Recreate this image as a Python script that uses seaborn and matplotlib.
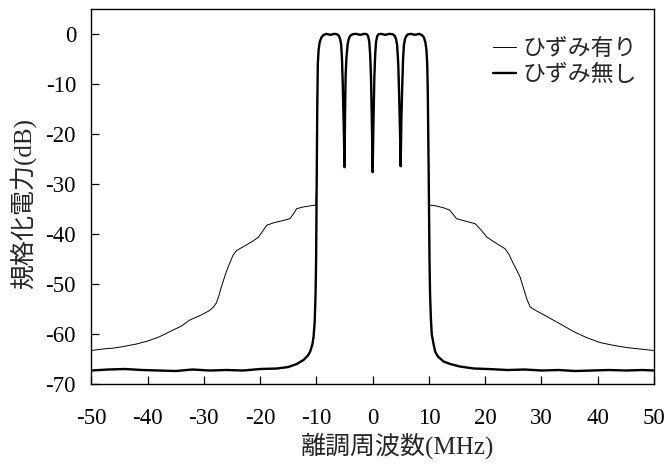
import numpy as np
import pandas as pd
import matplotlib
matplotlib.use("Agg")
import matplotlib.pyplot as plt
import seaborn as sns

# ---- data ----
# ひずみ無し (no distortion): thick line
freq_clean = [-50, -47, -44, -41, -38, -35, -32, -29, -26, -23, -20, -17, -15, -13.5,
              -12.3, -11.5, -11.1, -10.7, -10.5, -10.3, -10.15, -10.05, -9.95, -9.85,
              -9.75, -9.6, -9.4, -9.1, -8.8, -8.3, -7.5, -6.8, -6.3, -6.0, -5.8, -5.6,
              -5.45, -5.3, -5.15, -5.0, -4.9, -4.8, -4.65, -4.45, -4.25, -4.0, -3.6,
              -3.0, -2.2, -1.5, -1.0, -0.8, -0.6, -0.45, -0.3, -0.15, 0.0, 0.15, 0.3,
              0.45, 0.6, 0.8, 1.0, 1.5, 2.2, 3.0, 3.6, 3.9, 4.15, 4.35, 4.55, 4.7, 4.85,
              4.98, 5.1, 5.25, 5.4, 5.55, 5.75, 6.0, 6.3, 6.8, 7.5, 8.3, 8.8, 9.1, 9.35,
              9.55, 9.7, 9.8, 9.9, 10.0, 10.1, 10.2, 10.35, 10.5, 10.8, 11.1, 11.6,
              12.6, 13.8, 15.5, 18, 20.5, 24, 27, 30, 33, 36, 39, 42, 45, 48, 50]
db_clean = [-67.3, -67.1, -67.0, -67.2, -67.3, -67.4, -67.1, -67.3, -67.2, -67.3,
            -67.0, -66.9, -66.6, -66.0, -65.2, -64.3, -63.5, -62.0, -60.5, -57.5,
            -52.0, -45.0, -30.0, -15.0, -6.0, -3.0, -1.5, -0.6, -0.2, 0.1, -0.1, 0.1,
            0.0, -0.3, -0.9, -2.0, -5.0, -10.5, -18.0, -26.6, -15.0, -8.0, -4.5, -2.0,
            -0.9, -0.3, 0.0, 0.1, -0.1, 0.1, 0.0, -0.4, -1.5, -4.0, -8.5, -17.0, -27.6,
            -17.0, -8.5, -4.0, -1.5, -0.4, 0.0, 0.1, -0.1, 0.1, 0.0, -0.3, -0.9, -2.2,
            -6.0, -12.0, -19.0, -26.4, -17.0, -10.6, -5.0, -2.2, -0.9, -0.3, 0.0, 0.1,
            -0.1, 0.1, -0.2, -0.6, -1.5, -3.0, -6.0, -12.0, -22.0, -33.0, -45.0, -52.0,
            -57.0, -60.0, -61.9, -63.5, -64.5, -65.5, -66.0, -66.5, -66.9, -67.0,
            -67.2, -67.1, -67.3, -67.2, -67.4, -67.3, -67.2, -67.3, -67.2, -67.3]

# ひずみ有り (with distortion): thin line, spectral skirts outside the band
freq_dist_left = [-50, -48, -46, -44.3, -42, -40, -38, -36, -34, -32.5, -30.5, -29,
                  -28.3, -27.8, -27.4, -27.0, -26.5, -26.0, -25.4, -24.8, -24.2, -23.6,
                  -22.5, -21.3, -20.3, -19.5, -18.8, -17.5, -16, -14.7, -14.0, -13.5,
                  -12.5, -11.5, -10.4, -10.1]
db_dist_left = [-63.3, -63.0, -62.8, -62.5, -62.0, -61.4, -60.6, -59.5, -58.4, -57.2,
                -56.2, -55.3, -54.6, -53.8, -52.6, -51.0, -49.2, -47.5, -45.8, -44.2,
                -43.3, -42.9, -42.2, -41.4, -40.6, -39.3, -38.2, -37.7, -37.3, -36.9,
                -35.8, -34.9, -34.6, -34.4, -34.2, -34.3]
freq_dist_right = [10.1, 10.4, 11.5, 12.8, 13.7, 14.9, 16.5, 18.2, 19.3, 20.3, 21.5,
                   22.5, 23.5, 24.2, 25.0, 25.6, 26.2, 26.8, 27.4, 28.0, 29.0, 30.5,
                   32.1, 34.0, 35.7, 38.0, 40.4, 42.5, 45.1, 47.5, 50]
db_dist_right = [-34.3, -34.2, -34.4, -34.8, -35.2, -36.9, -37.4, -37.9, -39.2, -40.6,
                 -41.5, -42.2, -42.9, -44.0, -45.9, -47.2, -48.6, -50.8, -53.0, -54.6,
                 -55.3, -56.2, -57.2, -58.4, -59.5, -60.7, -61.7, -62.2, -62.7, -63.0,
                 -63.3]

x_ticks = [-50, -40, -30, -20, -10, 0, 10, 20, 30, 40, 50]
y_ticks = [0, -10, -20, -30, -40, -50, -60, -70]
label_dist = "ひずみ有り"
label_clean = "ひずみ無し"
xlabel = "離調周波数(MHz)"
ylabel = "規格化電力(dB)"

# ---- build tables ----
clean = pd.DataFrame({"f": freq_clean, "p": db_clean})
band = clean[(clean["f"].abs() < 10.1) & (clean["p"] > -34.2)]
dist = pd.concat([
    pd.DataFrame({"f": freq_dist_left, "p": db_dist_left}),
    band,
    pd.DataFrame({"f": freq_dist_right, "p": db_dist_right}),
], ignore_index=True)

sns.set_style("white")
plt.rcParams["font.family"] = ["Liberation Serif", "Noto Sans CJK JP"]
plt.rcParams["axes.unicode_minus"] = False

fig = plt.figure(figsize=(6.69, 4.68), dpi=100)
ax = fig.add_axes([0.1365, 0.1795, 0.9776 - 0.1365, 0.980 - 0.1795])

sns.lineplot(data=dist, x="f", y="p", sort=False, estimator=None, ax=ax,
             color="black", linewidth=0.7, label=label_dist)
sns.lineplot(data=clean, x="f", y="p", sort=False, estimator=None, ax=ax,
             color="black", linewidth=1.7, label=label_clean)

ax.set_xlim(-50, 50)
ax.set_ylim(-70, 5)
ax.set_xticks(x_ticks)
ax.set_yticks(y_ticks)
ax.set_xticklabels([str(v) for v in x_ticks])
ax.set_yticklabels([str(v) for v in y_ticks])
ax.tick_params(axis="both", direction="in", length=6, width=0.9, labelsize=16.5,
               colors="black", left=True, bottom=True, top=False, right=False)
ax.tick_params(axis="y", pad=11)
ax.tick_params(axis="x", pad=17)
for lab in ax.get_xticklabels() + ax.get_yticklabels():
    lab.set_family(["Liberation Serif"])

for s in ax.spines.values():
    s.set_color("black")
    s.set_linewidth(1.0)

ax.set_xlabel(xlabel, fontsize=18, family=["Liberation Serif", "Noto Sans CJK JP"],
              labelpad=4)
ax.xaxis.set_label_coords(0.545, -0.128)
ax.set_ylabel(ylabel, fontsize=18, family=["Liberation Serif", "Noto Sans CJK JP"])
ax.yaxis.set_label_coords(-0.098, 0.483)

leg = ax.legend(loc="upper right", bbox_to_anchor=(0.970, 0.925), frameon=False,
                borderpad=0, borderaxespad=0,
                handlelength=1.0, handletextpad=0.3, labelspacing=0.1,
                prop={"family": ["Noto Sans CJK JP"], "size": 16.5})

fig.savefig("out.png", dpi=100)
